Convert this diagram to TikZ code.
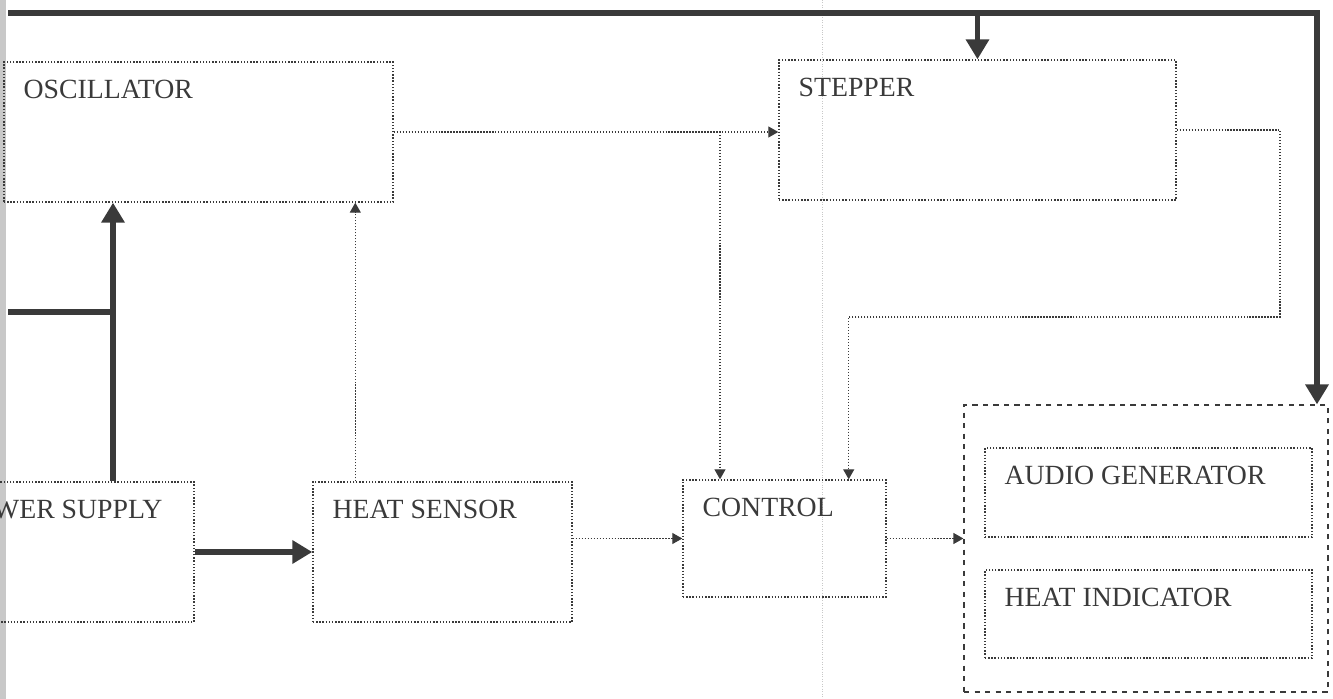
\documentclass[tikz,border=0pt]{standalone}
\usepackage{fontspec}
\setmainfont{Liberation Serif}
\usetikzlibrary{arrows.meta,fit,calc}
\definecolor{inkgray}{HTML}{3A3A3A}
\definecolor{edgegray}{HTML}{C8C8C8}

\begin{document}
\begin{tikzpicture}[x=0.02cm,y=-0.02cm,
  blockbox/.style={draw=inkgray,densely dotted,line width=0.8pt,inner sep=0pt},
  groupbox/.style={draw=inkgray,dashed,line width=0.7pt,inner sep=0pt},
  blocktext/.style={anchor=north west,inner sep=0pt,xshift=0.4cm,yshift=-0.36cm,
    font=\fontsize{15.8}{18}\selectfont,text=inkgray},
  sig/.style={draw=inkgray,densely dotted,line width=0.7pt,
    -{Triangle[width=0.22cm,length=0.2cm]}},
  bus/.style={draw=inkgray,line width=3.4pt,line join=miter},
  busarrow/.style={bus,-{Triangle[width=0.45cm,length=0.4cm]}}]
  \useasboundingbox (0,0) rectangle (1333,699);
  \clip (0,0) rectangle (1333,699);

  % page edge and scan line
  \draw[edgegray,line width=0.12cm] (3,0) -- (3,699);
  \draw[edgegray,densely dotted] (822,0) -- (822,699);

  % blocks
  \node[blockbox,fit={(4,62) (393,202)},label={[blocktext]north west:OSCILLATOR}] (osc) {};
  \node[blockbox,fit={(779,60) (1176,200)},label={[blocktext]north west:STEPPER}] (stepper) {};
  \node[blockbox,fit={(-62,482) (194,622)},label={[blocktext]north west:POWER SUPPLY}] (power) {};
  \node[blockbox,fit={(313,482) (572,622)},label={[blocktext]north west:HEAT SENSOR}] (sensor) {};
  \node[blockbox,fit={(683,480) (886,597)},label={[blocktext]north west:CONTROL}] (control) {};
  \node[groupbox,fit={(964,405) (1328,692)}] (group) {};
  \node[blockbox,fit={(985,448) (1312,537)},label={[blocktext]north west:AUDIO GENERATOR}] (audio) {};
  \node[blockbox,fit={(985,570) (1312,658)},label={[blocktext]north west:HEAT INDICATOR}] (indicator) {};

  % supply lines
  \coordinate (busL) at (8,13);
  \coordinate (busR) at (1317,13);
  \coordinate (tap) at (stepper.north |- busL);
  \draw[busarrow] (busL) -- (busR) -- (busR |- group.north);
  \draw[busarrow] (tap) -- (stepper.north);
  \coordinate (feedL) at (8,312);
  \coordinate (feed) at (113,312);
  \draw[bus] (feedL) -- (feed);
  \draw[busarrow] (feed |- power.north) -- (feed |- osc.south);
  \draw[busarrow] (power.east) -- (sensor.west);

  % signal lines
  \coordinate (probe) at ($(sensor.north west)+(43,0)$);
  \draw[sig] (probe) -- (probe |- osc.south);
  \draw[sig] (osc.east) -- (osc.east -| stepper.west);
  \coordinate (split) at (720,132);
  \draw[sig] (split) -- (split |- control.north);
  \coordinate (loopR) at (1280,317);
  \coordinate (ctlin) at ($(control.north east)+(-38,0)$);
  \draw[sig] (stepper.east) -| (loopR) -| (ctlin);
  \draw[sig] (control.west -| sensor.east) -- (control.west);
  \draw[sig] (control.east) -- (control.east -| group.west);
\end{tikzpicture}
\end{document}
